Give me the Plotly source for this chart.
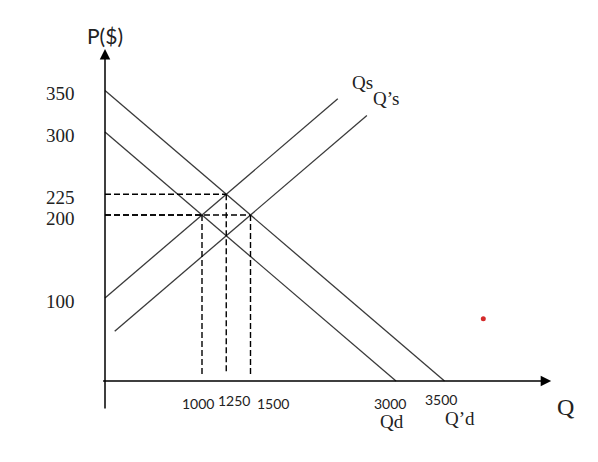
import plotly.graph_objects as go

# axis labels
price_ticks = [350, 300, 225, 200, 100]
qty_ticks = [1000, 1250, 1500, 3000, 3500]

# demand curves  (Q, P)
qd_q = [0, 3000]
qd_p = [300, 0]
qd2_q = [0, 3500]
qd2_p = [350, 0]

# supply curves
qs_q = [0, 2400]
qs_p = [100, 340]
qs2_q = [100, 2700]
qs2_p = [60, 320]

# equilibrium points (Q, P)
eq_q = [1000, 1250, 1500]
eq_p = [200, 225, 200]

# the stray red dot in the scan
dot_q = [3900]
dot_p = [75]

# ---- layout calibration (pixels, page body adds 8px) ----
W, H = 598, 462
X0_PX, Y0_PX = 97, 373       # where the origin sits inside the figure
SX, SY = 0.097, 0.83         # px per unit
Q_AXIS_END, P_AXIS_END = 4600, 400

LINE_COL = "#3a3a3a"
SERIF = "Liberation Serif"
SANS = "Lato"

fig = go.Figure()

for q, p in [(qd_q, qd_p), (qd2_q, qd2_p), (qs_q, qs_p), (qs2_q, qs2_p)]:
    fig.add_trace(go.Scatter(x=q, y=p, mode="lines",
                             line=dict(color=LINE_COL, width=1.3),
                             hoverinfo="skip"))

# dashed guides to the axes
dx, dy = [], []
for q, p in zip(eq_q, eq_p):
    dx += [0, q, None, q, q, None]
    dy += [p, p, None, p, 8, None]
fig.add_trace(go.Scatter(x=dx, y=dy, mode="lines",
                         line=dict(color="black", width=1.4, dash="6px,3px"),
                         hoverinfo="skip"))

fig.add_trace(go.Scatter(x=dot_q, y=dot_p, mode="markers",
                         marker=dict(color="#d42a2a", size=5),
                         hoverinfo="skip"))

ann = []
# axes with arrow heads
arrow = dict(xref="x", yref="y", axref="x", ayref="y", text="",
             showarrow=True, arrowhead=2, arrowsize=1.4, arrowwidth=1.5,
             arrowcolor="black", standoff=0)
ann.append(dict(arrow, x=Q_AXIS_END, y=0, ax=-35, ay=0))
ann.append(dict(arrow, x=0, y=P_AXIS_END, ax=0, ay=-35))

for p in price_ticks:
    ann.append(dict(x=0, y=p, text=str(p), showarrow=False, xanchor="right",
                    xshift=-28, yshift=-3,
                    font=dict(family=SERIF, size=19, color="#222")))

qty_shift = {1000: -4, 1250: 8, 1500: 22, 3000: -6, 3500: -4}
qty_lift = {1000: -22, 1250: -19, 1500: -22, 3000: -22, 3500: -18}
for q in qty_ticks:
    ann.append(dict(x=q, y=0, text=str(q), showarrow=False,
                    xshift=qty_shift[q], yshift=qty_lift[q],
                    font=dict(family=SANS, size=14, color="#222")))

ann.append(dict(x=0, y=P_AXIS_END, text="P($)", showarrow=False,
                yanchor="bottom", yshift=-1,
                font=dict(family=SANS, size=21, color="#222")))
ann.append(dict(x=Q_AXIS_END, y=0, text="Q", showarrow=False,
                xanchor="left", xshift=4, yshift=-26,
                font=dict(family=SERIF, size=24, color="#222")))
ann.append(dict(x=qd_q[-1], y=0, text="Qd", showarrow=False,
                xshift=-4, yshift=-40,
                font=dict(family=SERIF, size=19, color="#222")))
ann.append(dict(x=qd2_q[-1], y=0, text="Q’d", showarrow=False,
                xanchor="left", xshift=-2, yshift=-37,
                font=dict(family=SERIF, size=19, color="#222")))
ann.append(dict(x=qs_q[-1], y=qs_p[-1], text="Qs", showarrow=False,
                xanchor="left", yanchor="bottom", xshift=12, yshift=4,
                font=dict(family=SERIF, size=19, color="#222")))
ann.append(dict(x=qs2_q[-1], y=qs2_p[-1], text="Q’s", showarrow=False,
                xanchor="left", yanchor="bottom", xshift=4, yshift=4,
                font=dict(family=SERIF, size=19, color="#222")))

fig.update_layout(
    width=W, height=H,
    margin=dict(l=0, r=0, t=0, b=0),
    paper_bgcolor="white", plot_bgcolor="white",
    showlegend=False,
    annotations=ann,
    xaxis=dict(range=[-X0_PX / SX, (W - X0_PX) / SX], visible=False,
               fixedrange=True),
    yaxis=dict(range=[-(H - Y0_PX) / SY, Y0_PX / SY], visible=False,
               fixedrange=True),
)

fig.write_html("out.html")
